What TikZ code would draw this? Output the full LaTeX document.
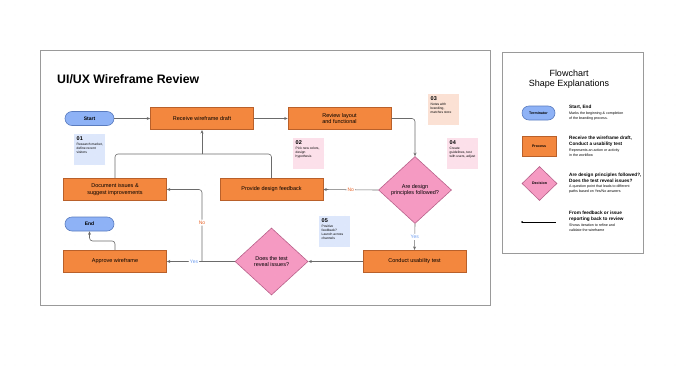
\documentclass[tikz,border=0pt]{standalone}
\usepackage{fontspec}
\setmainfont{Liberation Sans}
\usetikzlibrary{arrows.meta,shapes.geometric}
\definecolor{procfill}{HTML}{F3873E}
\definecolor{procline}{HTML}{B9602A}
\definecolor{decfill}{HTML}{F59AC2}
\definecolor{decline}{HTML}{B8618A}
\definecolor{termfill}{HTML}{8EB2F6}
\definecolor{termline}{HTML}{5A7CBF}
\definecolor{noteblue}{HTML}{DDE7FB}
\definecolor{notepink}{HTML}{FCE0EA}
\definecolor{notepeach}{HTML}{FBE1D4}
\definecolor{flowgray}{HTML}{6B6B6B}
\definecolor{yesblue}{HTML}{6C9CF0}
\definecolor{noorange}{HTML}{E8662C}
\definecolor{framegray}{HTML}{9A9A9A}
\begin{document}
\begin{tikzpicture}[x=1pt, y=-1pt, >={Stealth[length=3.5pt,width=3pt]},
        process/.style={draw=procline, fill=procfill, line width=0.6pt, align=center, minimum width=103pt, minimum height=22.5pt, font=\fontsize{5.5}{6.6}\selectfont},
        terminal/.style={draw=termline, fill=termfill, line width=0.6pt, rounded corners=7pt, minimum width=49pt, minimum height=14pt, inner sep=0pt, font=\bfseries\fontsize{5}{6}\selectfont},
        decision/.style={diamond, draw=decline, fill=decfill, line width=0.6pt, align=center, inner sep=0pt, minimum width=73pt, minimum height=67pt, font=\fontsize{5.5}{6.6}\selectfont},
        note/.style={anchor=north west, inner sep=2.5pt, minimum width=31pt, minimum height=31pt},
        flow/.style={draw=flowgray, line width=0.6pt, rounded corners=3pt},
        answer/.style={fill=white, inner sep=1.2pt, font=\fontsize{5}{6}\selectfont},
        legendhead/.style={anchor=north west, align=left, inner sep=0pt, font=\bfseries\fontsize{4.7}{5.7}\selectfont},
        legendtext/.style={anchor=north west, align=left, inner sep=0pt, font=\fontsize{3.6}{4.4}\selectfont}]
    \useasboundingbox (0,0) rectangle (680,367);
    \foreach \i in {5,15,...,675} {
        \foreach \j in {5,15,...,365} {
            \fill[gray!22] (\i,\j) circle (0.35);
        }
    }
    \draw[framegray, line width=0.6pt] (40,50) rectangle (490,305);
    \draw[framegray, line width=0.6pt, fill=white] (502,52) rectangle (643,253);

    \node[anchor=base west, inner sep=0pt, font=\bfseries\fontsize{12.3}{14}\selectfont] (title) at (57,83) {UI/UX Wireframe Review};

    \node[terminal] (start) at (89.5,118.5) {Start};
    \node[process] (receive) at (202,118.5) {Receive wireframe draft};
    \node[process] (review) at (339.5,118.5) {Review layout\\and functional};
    \node[decision] (principles) at (415,190) {Are design\\principles followed?};
    \node[process] (feedback) at (271.5,189.5) {Provide design feedback};
    \node[process] (document) at (115,189.5) {Document issues \&\\suggest improvements};
    \node[process] (usability) at (414.5,261.5) {Conduct usability test};
    \node[decision] (issues) at (271.5,261.5) {Does the test\\reveal issues?};
    \node[process] (approve) at (115,261.5) {Approve wireframe};
    \node[terminal] (end) at (89.5,224) {End};

    \node[note, fill=noteblue] (note1) at (74,134) {\parbox[t][26pt][t]{26pt}{\raggedright\bfseries\fontsize{5.5}{6.5}\selectfont 01\par\vspace{1pt}\mdseries\fontsize{3.3}{4.1}\selectfont Research market, define recent visitors}};
    \node[note, fill=notepink] (note2) at (293,138) {\parbox[t][26pt][t]{26pt}{\raggedright\bfseries\fontsize{5.5}{6.5}\selectfont 02\par\vspace{1pt}\mdseries\fontsize{3.3}{4.1}\selectfont Pick new colors, design hypothesis}};
    \node[note, fill=notepeach] (note3) at (428,94) {\parbox[t][26pt][t]{26pt}{\raggedright\bfseries\fontsize{5.5}{6.5}\selectfont 03\par\vspace{1pt}\mdseries\fontsize{3.3}{4.1}\selectfont Notes with branding, matches store}};
    \node[note, fill=notepink] (note4) at (447,138) {\parbox[t][26pt][t]{26pt}{\raggedright\bfseries\fontsize{5.5}{6.5}\selectfont 04\par\vspace{1pt}\mdseries\fontsize{3.3}{4.1}\selectfont Create guidelines, test with users, adjust}};
    \node[note, fill=noteblue] (note5) at (319,216) {\parbox[t][26pt][t]{26pt}{\raggedright\bfseries\fontsize{5.5}{6.5}\selectfont 05\par\vspace{1pt}\mdseries\fontsize{3.3}{4.1}\selectfont Positive feedback? Launch across channels}};

    \coordinate (merge) at (202,154);
    \coordinate (nojoin) at (202,261.5);
    \draw[flow, ->] (start) -- (receive);
    \draw[flow, ->] (receive) -- (review);
    \draw[flow, ->] (review.east) -| (principles.north);
    \draw[flow, ->] (principles.west) -- node[answer, text=noorange]{No} (feedback.east);
    \draw[flow, ->] (principles.south) -- node[answer, text=yesblue]{Yes} (usability.north);
    \draw[flow, ->] (usability.west) -- (issues.east);
    \draw[flow, ->] (issues.west) -- node[answer, text=yesblue, pos=0.6]{Yes} (approve.east);
    \draw[flow, ->] (nojoin) |- node[answer, text=noorange, pos=0.27]{No} (document.east);
    \draw[flow] (document.north) |- (merge);
    \draw[flow] (feedback.north) |- (merge);
    \draw[flow, ->] (merge) -- (receive.south);
    \draw[flow, ->] (approve.north) -- ++(0,-9) -| (end.south);

    \node[align=center, inner sep=0pt, font=\fontsize{9}{10.5}\selectfont] (legendtitle) at (569,79) {Flowchart\\Shape Explanations};
    \node[terminal, minimum width=33pt, font=\bfseries\fontsize{3.6}{4.4}\selectfont] (keyterm) at (538.5,113) {Terminator};
    \node[process, minimum width=34pt, minimum height=20pt, font=\bfseries\fontsize{3.6}{4.4}\selectfont] (keyproc) at (539,146) {Process};
    \node[decision, minimum width=35pt, minimum height=34pt, font=\bfseries\fontsize{3.6}{4.4}\selectfont] (keydec) at (539.5,183.5) {Decision};
    \coordinate (keyfrom) at (522,222);
    \coordinate (keyto) at (556,222);
    \fill[black] (keyfrom) circle (1pt);
    \draw[black, line width=0.6pt] (keyfrom) -- (keyto);

    \node[legendhead] (termhead) at (569,105) {Start, End};
    \node[legendtext] (termtext) at (569,112) {Marks the beginning \& completion\\of the branding process.};
    \node[legendhead] (prochead) at (569,136) {Receive the wireframe draft,\\Conduct a usability test};
    \node[legendtext] (proctext) at (569,149) {Represents an action or activity\\in the workflow};
    \node[legendhead] (dechead) at (569,173) {Are design principles followed?,\\Does the test reveal issues?};
    \node[legendtext] (dectext) at (569,185) {A question point that leads to different\\paths based on Yes/No answers};
    \node[legendhead] (linehead) at (569,211) {From feedback or issue\\reporting back to review};
    \node[legendtext] (linetext) at (569,224) {Shows iteration to refine and\\validate the wireframe};
\end{tikzpicture}
\end{document}
